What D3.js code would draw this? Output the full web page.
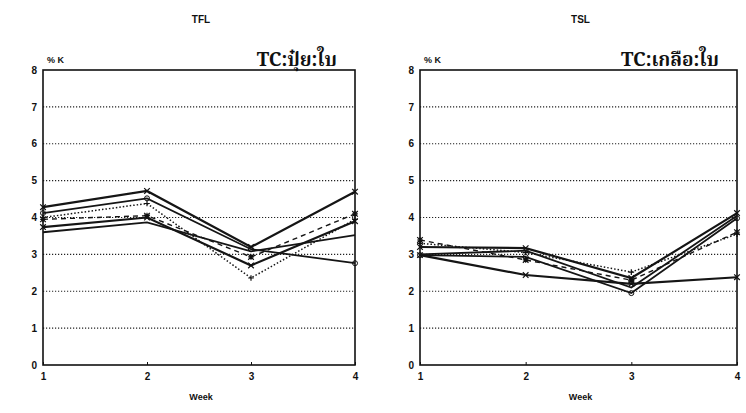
<!DOCTYPE html>
<html>
<head>
<meta charset="utf-8">
<script src="https://cdn.jsdelivr.net/npm/d3@7"></script>
<style>
  body { margin: 0; background: #fff; }
  svg text { font-family: "Liberation Sans", Arial, sans-serif; fill: #111; }
</style>
</head>
<body>
<div id="chart"></div>
<script>
// data
var weeks = [1, 2, 3, 4];
var yTicks = [0, 1, 2, 3, 4, 5, 6, 7, 8];

var tflSeries = [
  [4.28, 4.72, 3.20, 4.70],
  [4.12, 4.52, 3.14, 2.76],
  [4.00, 4.38, 2.36, 3.95],
  [3.95, 4.05, 2.93, 4.10],
  [3.74, 4.00, 2.70, 3.90],
  [3.60, 3.87, 3.08, 3.52]
];

var tslSeries = [
  [3.20, 3.17, 2.36, 4.12],
  [2.98, 2.93, 1.95, 3.98],
  [3.30, 3.05, 2.52, 3.55],
  [3.39, 2.85, 2.30, 3.60],
  [2.98, 2.44, 2.20, 2.38],
  [3.00, 3.10, 2.10, 4.05]
];

// line look for each series
var dashes = [null, null, "1.5,2", "5,4", null, null];
var widths = [2.2, 1.8, 1.5, 1.4, 2.2, 1.8];
var markers = ["x", "o", "+", "*", "x", "none"];

var svg = d3.select("#chart")
  .append("svg")
    .attr("width", 746)
    .attr("height", 413);

function panel(opts) {
  var x = d3.scaleLinear().domain([1, 4]).range([opts.left, opts.right]);
  var y = d3.scaleLinear().domain([0, 8]).range([365, 70]);
  var g = svg.append("g");

  // dotted grid
  g.selectAll(".grid")
    .data(yTicks.filter(function (d) { return d > 0 && d < 8; }))
    .enter().append("line")
      .attr("x1", x(1)).attr("x2", x(4))
      .attr("y1", function (d) { return y(d); })
      .attr("y2", function (d) { return y(d); })
      .style("stroke", "#222")
      .style("stroke-width", 1.2)
      .style("stroke-dasharray", "1.2,1.8");

  // frame
  g.append("rect")
    .attr("x", x(1)).attr("y", y(8))
    .attr("width", x(4) - x(1)).attr("height", y(0) - y(8))
    .style("fill", "none").style("stroke", "#111").style("stroke-width", 1.6);

  // axes
  var ax = g.append("g")
    .attr("transform", "translate(0," + y(0) + ")")
    .call(d3.axisBottom(x).tickValues(weeks).tickFormat(d3.format("d")).tickSize(-3).tickPadding(8));
  var ay = g.append("g")
    .attr("transform", "translate(" + x(1) + ",0)")
    .call(d3.axisLeft(y).tickValues(yTicks).tickSize(0).tickPadding(6));
  [ax, ay].forEach(function (a) {
    a.select(".domain").remove();
    a.selectAll("line").style("stroke", "#111");
    a.selectAll("text").style("font-size", "10px").style("font-weight", "bold");
  });

  var line = d3.line()
    .x(function (d, i) { return x(weeks[i]); })
    .y(function (d) { return y(d); });

  opts.data.forEach(function (s, k) {
    g.append("path")
      .attr("d", line(s))
      .style("fill", "none")
      .style("stroke", "#151515")
      .style("stroke-width", widths[k])
      .style("stroke-dasharray", dashes[k]);

    s.forEach(function (v, i) {
      var cx = x(weeks[i]), cy = y(v), r = 2.8;
      var m = markers[k];
      if (m === "o") {
        g.append("circle").attr("cx", cx).attr("cy", cy).attr("r", 2.5)
          .style("fill", "none").style("stroke", "#111").style("stroke-width", 1);
      } else if (m === "x" || m === "+" || m === "*") {
        var p = "";
        if (m !== "+") p += "M" + (cx - r) + "," + (cy - r) + "L" + (cx + r) + "," + (cy + r) +
                             "M" + (cx - r) + "," + (cy + r) + "L" + (cx + r) + "," + (cy - r);
        if (m !== "x") p += "M" + (cx - r) + "," + cy + "L" + (cx + r) + "," + cy +
                             "M" + cx + "," + (cy - r) + "L" + cx + "," + (cy + r);
        g.append("path").attr("d", p).style("stroke", "#111").style("stroke-width", 1.2);
      }
    });
  });

  // labels
  g.append("text").attr("x", (opts.left + opts.right) / 2 + 2).attr("y", 23)
    .attr("text-anchor", "middle").style("font-size", "10px").style("font-weight", "bold")
    .text(opts.title);
  g.append("text").attr("x", x(1) + 4).attr("y", 63)
    .style("font-size", "9px").style("font-weight", "bold").text("% K");
  g.append("text").attr("x", opts.right - 18).attr("y", 66)
    .attr("text-anchor", "end")
    .style("font-family", "'Noto Serif Thai', 'Noto Sans Thai', 'Liberation Serif', serif")
    .style("font-size", "19px")
    .style("font-weight", "bold")
    .text(opts.tag);
  g.append("text").attr("x", (opts.left + opts.right) / 2 + 2).attr("y", 400)
    .attr("text-anchor", "middle").style("font-size", "9px").style("font-weight", "bold")
    .text("Week");
}

panel({ left: 43, right: 355, data: tflSeries, title: "TFL", tag: "TC:ปุ๋ย:ใบ" });
panel({ left: 420, right: 737, data: tslSeries, title: "TSL", tag: "TC:เกลือ:ใบ" });
</script>
</body>
</html>
